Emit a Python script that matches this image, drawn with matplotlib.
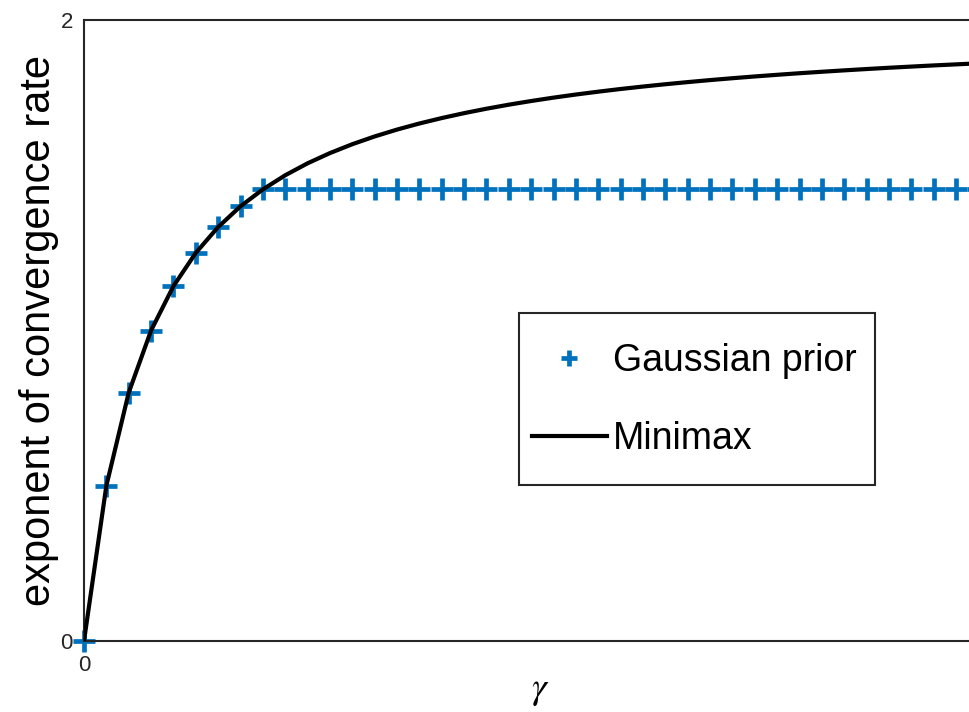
"""Convergence rate exponent: Gaussian prior vs minimax."""
import matplotlib
matplotlib.use("Agg")
import matplotlib.pyplot as plt
from matplotlib.patches import Rectangle
import numpy as np

plt.rcParams["font.family"] = ["Liberation Sans", "DejaVu Sans"]
plt.rcParams["mathtext.fontset"] = "stix"

# gamma grid, steps of 1/3
gamma = np.arange(42) / 3.0

gaussian_prior = [0.0, 0.5, 0.8, 1.0, 1.143, 1.25, 1.333, 1.4] + [1.455] * 34

minimax = [
    0.0, 0.5, 0.8, 1.0, 1.1429, 1.25, 1.3333, 1.4, 1.4545, 1.5,
    1.5385, 1.5714, 1.6, 1.625, 1.6471, 1.6667, 1.6842, 1.7, 1.7143, 1.7273,
    1.7391, 1.75, 1.76, 1.7692, 1.7778, 1.7857, 1.7931, 1.8, 1.8065, 1.8125,
    1.8182, 1.8235, 1.8286, 1.8333, 1.8378, 1.8421, 1.8462, 1.85, 1.8537, 1.8571,
    1.8605, 1.8636,
]

BLUE = "#0072BD"
SPINE = "#262626"

fig = plt.figure(figsize=(9.7, 7.12), dpi=100)
ax = fig.add_axes([84 / 970, 71 / 712, 912 / 970, 621 / 712])

ax.plot(gamma, gaussian_prior, linestyle="none", marker="+", markersize=16,
        markeredgewidth=3.4, color=BLUE, label="Gaussian prior", clip_on=False, zorder=2)
ax.plot(gamma, minimax, color="black", linewidth=3, label="Minimax", zorder=3)

ax.set_xlim(0, 912 / 22.36 / 3)
ax.set_ylim(0, 2)
ax.set_xticks([0])
ax.set_yticks([0, 2])
ax.tick_params(length=0, labelsize=16, colors=SPINE, pad=8)
ax.tick_params(axis="x", pad=10)
for side in ["left", "bottom", "top"]:
    ax.spines[side].set_color(SPINE)
    ax.spines[side].set_linewidth(1.5)
ax.spines["right"].set_visible(False)

ax.set_xlabel(r"$\gamma$", fontsize=27, labelpad=-3)
ax.set_ylabel("exponent of convergence rate", fontsize=30, labelpad=1)

# legend frame drawn separately so padding matches
ax.add_patch(Rectangle((0.477, 0.251), 0.39, 0.277, transform=ax.transAxes,
                       facecolor="white", edgecolor=SPINE, linewidth=1.5, zorder=4))
leg = ax.legend(loc="upper left", bbox_to_anchor=(0.491, 0.4799),
                fontsize=27, frameon=False, handlelength=2.0, handletextpad=0.16,
                labelspacing=1.13, borderpad=0, borderaxespad=0)
leg.set_zorder(5)
leg.legend_handles[0].set_markersize(11)

fig.savefig("out.png", dpi=100)
